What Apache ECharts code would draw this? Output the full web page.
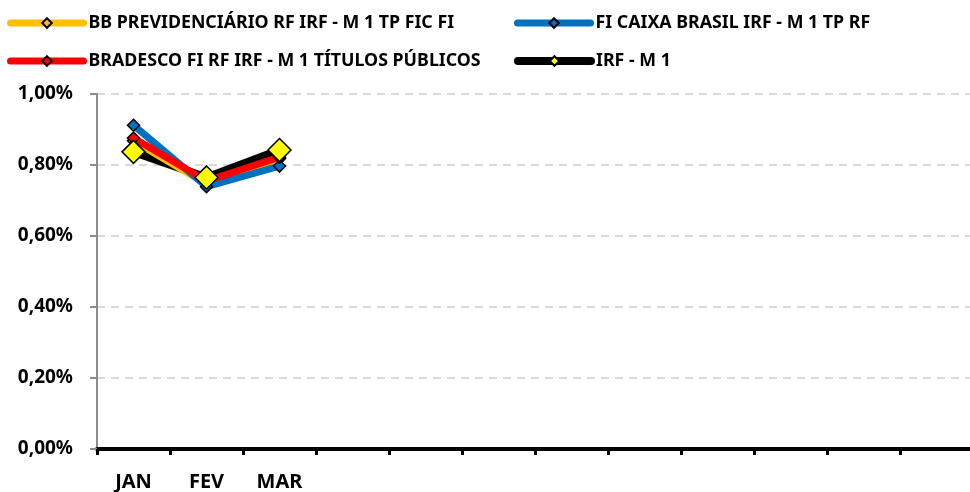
<!DOCTYPE html>
<html>
<head>
<meta charset="utf-8">
<script src="https://cdn.jsdelivr.net/npm/echarts@6/dist/echarts.min.js"></script>
<style>
html,body{margin:0;padding:0;background:#fff;}
#c{width:970px;height:492px;}
</style>
</head>
<body>
<div id="c"></div>
<script>
var categories = ['JAN','FEV','MAR','ABR','MAI','JUN','JUL','AGO','SET','OUT','NOV','DEZ'];
var shownLabels = ['JAN','FEV','MAR'];
var bbPrev = [0.00868, 0.00746, 0.00818];
var caixa = [0.00912, 0.00739, 0.00797];
var bradesco = [0.00876, 0.00755, 0.00822];
var irfm1 = [0.00837, 0.00765, 0.00842];
var yTicks = [0, 0.002, 0.004, 0.006, 0.008, 0.01];

var FONT = 'Noto Sans';
var chart = echarts.init(document.getElementById('c'), null, {renderer:'canvas'});

function legendBox(name, left, top, w, lw){
  return {
    data:[name], left:left, top:top, itemWidth:w, itemHeight:12, itemGap:0, padding:0,
    textStyle:{fontFamily:FONT, fontWeight:'bold', fontSize:17.8, color:'#000'},
    lineStyle:{cap:'round', width:lw}
  };
}
function lineSeries(name, data, color, width, z){
  return {
    name:name, type:'line', data:data, z:z,
    symbol:'diamond', symbolSize:12,
    lineStyle:{color:color, width:width, cap:'round', join:'round'},
    itemStyle:{color:color, borderColor:'#000', borderWidth:1.5, opacity:1},
    emphasis:{disabled:true}, animation:false
  };
}

var option = {
  backgroundColor:'#fff',
  animation:false,
  legend:[
    legendBox('BB PREVIDENCIÁRIO RF IRF - M 1 TP FIC FI', 7, 14, 73, 7),
    legendBox('FI CAIXA BRASIL IRF - M 1 TP RF', 514, 14, 73, 7),
    legendBox('BRADESCO FI RF IRF - M 1 TÍTULOS PÚBLICOS', 7, 52, 73, 7),
    legendBox('IRF - M 1', 514, 52, 73, 8)
  ],
  grid:{left:97, right:-3, top:94, bottom:43, containLabel:false, outerBoundsMode:'none'},
  xAxis:{
    type:'category', data:categories, boundaryGap:true,
    axisLine:{lineStyle:{color:'#000', width:4}},
    axisTick:{show:true, alignWithLabel:false, length:6, lineStyle:{color:'#000', width:3}},
    axisLabel:{
      margin:23, fontFamily:FONT, fontWeight:'bold', fontSize:20, color:'#000',
      interval:0,
      formatter:function(v){ return shownLabels.indexOf(v) >= 0 ? v : ''; }
    },
    splitLine:{show:false}
  },
  yAxis:{
    type:'value', min:yTicks[0], max:yTicks[yTicks.length-1], interval:0.002,
    axisLine:{show:true, lineStyle:{color:'#8c8c8c', width:2}},
    axisTick:{show:true, inside:false, length:7, lineStyle:{color:'#8c8c8c', width:2}},
    axisLabel:{
      margin:24, fontFamily:FONT, fontWeight:'bold', fontSize:19, color:'#000',
      formatter:function(v){ return (v*100).toFixed(2).replace('.', ',') + '%'; }
    },
    splitLine:{show:true, lineStyle:{color:'#d9d9d9', type:[8,6], width:2}}
  },
  series:[
    lineSeries('IRF - M 1', irfm1, '#000000', 8, 1),
    lineSeries('BB PREVIDENCIÁRIO RF IRF - M 1 TP FIC FI', bbPrev, '#FFC000', 7, 2),
    lineSeries('FI CAIXA BRASIL IRF - M 1 TP RF', caixa, '#0070C0', 7, 3),
    lineSeries('BRADESCO FI RF IRF - M 1 TÍTULOS PÚBLICOS', bradesco, '#FF0000', 7, 4),
    {
      name:'IRF markers', type:'scatter', data:irfm1, z:5,
      symbol:'diamond', symbolSize:23,
      itemStyle:{color:'#FFFF00', borderColor:'#000', borderWidth:1.5, opacity:1},
      emphasis:{disabled:true}, animation:false
    }
  ]
};
option.series[0].itemStyle = {color:'#FFFF00', borderColor:'#000', borderWidth:1.5, opacity:1};
option.series[0].symbolSize = 10;
chart.setOption(option);
</script>
</body>
</html>
